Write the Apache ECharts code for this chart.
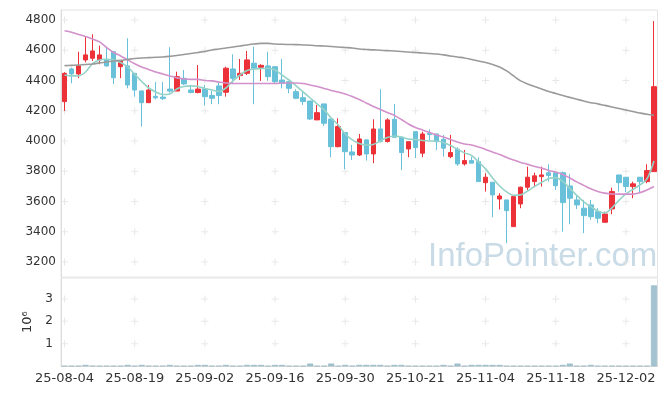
<!DOCTYPE html>
<html><head><meta charset="utf-8">
<script src="https://cdn.jsdelivr.net/npm/echarts@6/dist/echarts.min.js"></script>
<style>html,body{margin:0;padding:0;background:#fff}#c{width:665px;height:396px}</style>
</head><body><div id="c"></div>
<script>
const dates = ['25-08-04','25-08-05','25-08-06','25-08-07','25-08-08','25-08-11','25-08-12','25-08-13','25-08-14','25-08-18',
'25-08-19','25-08-20','25-08-21','25-08-22','25-08-25','25-08-26','25-08-27','25-08-28','25-08-29','25-09-01',
'25-09-02','25-09-03','25-09-04','25-09-05','25-09-08','25-09-09','25-09-10','25-09-11','25-09-12','25-09-15',
'25-09-16','25-09-17','25-09-18','25-09-19','25-09-22','25-09-23','25-09-24','25-09-25','25-09-26','25-09-29',
'25-09-30','25-10-01','25-10-02','25-10-10','25-10-13','25-10-14','25-10-15','25-10-16','25-10-17','25-10-20',
'25-10-21','25-10-22','25-10-23','25-10-24','25-10-27','25-10-28','25-10-29','25-10-30','25-10-31','25-11-03',
'25-11-04','25-11-05','25-11-06','25-11-07','25-11-10','25-11-11','25-11-12','25-11-13','25-11-14','25-11-17',
'25-11-18','25-11-19','25-11-20','25-11-21','25-11-24','25-11-25','25-11-26','25-11-27','25-11-28','25-12-01',
'25-12-02','25-12-03','25-12-04','25-12-05','25-12-08'];
const opens  = [4260,4476,4443,4536,4547,4536,4536,4590,4491,4496,4447,4331,4253,4295,4290,4343,4330,4414,4337,4320,
4343,4300,4364,4322,4476,4432,4447,4514,4487,4496,4491,4403,4392,4326,4286,4264,4139,4245,4145,3962,
4055,3927,3907,4007,3914,4079,3996,4143,4024,3947,4061,3919,4051,4046,4011,3896,3945,3848,3870,3863,
3724,3727,3616,3610,3433,3583,3694,3731,3764,3790,3790,3790,3702,3610,3555,3577,3532,3462,3550,3775,
3760,3698,3760,3731,3797];
const closes = [4447,4443,4496,4569,4595,4569,4496,4418,4529,4370,4337,4253,4337,4285,4280,4330,4425,4377,4320,4343,
4293,4282,4300,4481,4414,4447,4536,4481,4500,4425,4392,4381,4348,4282,4260,4145,4187,4117,3962,4095,
3929,3907,4013,3914,4079,3996,4139,4024,3923,3995,3956,4046,4042,3995,3952,3923,3848,3870,3853,3731,
3760,3643,3636,3539,3632,3694,3760,3769,3775,3771,3704,3592,3621,3577,3506,3499,3489,3517,3665,3724,
3698,3716,3731,3804,4359];
const lows   = [4198,4381,4415,4520,4529,4507,4491,4375,4415,4348,4293,4095,4253,4275,4270,4320,4330,4370,4315,4315,
4233,4243,4243,4293,4375,4403,4436,4243,4397,4397,4381,4348,4315,4276,4238,4139,4139,4099,3892,3958,
3813,3874,3900,3870,3853,3989,3989,4024,3808,3892,3886,3892,4002,3940,3896,3886,3835,3837,3853,3731,
3665,3495,3547,3324,3433,3555,3676,3694,3698,3731,3676,3400,3449,3550,3390,3478,3456,3462,3515,3665,
3661,3621,3654,3720,3797];
const highs  = [4455,4485,4590,4690,4705,4630,4617,4595,4529,4679,4450,4331,4370,4390,4390,4620,4458,4469,4370,4502,
4370,4331,4392,4491,4573,4542,4595,4623,4507,4590,4491,4542,4392,4342,4326,4264,4238,4245,4145,4150,
4055,3973,4046,4007,4143,4342,4150,4245,4024,3995,4061,4061,4077,4046,4040,4040,3958,3940,3896,3892,
3786,3727,3654,3610,3632,3698,3830,3790,3830,3846,3797,3797,3780,3643,3610,3610,3555,3532,3691,3775,
3760,3731,3760,3846,4793];
const ma5  = [4436,4430,4430,4456,4512,4536,4540,4536,4519,4489,4440,4393,4350,4324,4307,4311,4344,4360,4364,4360,
4347,4337,4327,4350,4397,4436,4466,4476,4479,4481,4469,4436,4403,4364,4324,4284,4245,4205,4152,4106,
4046,4007,3983,3973,3977,4000,4023,4033,4026,4013,4010,4003,4000,4000,3990,3970,3944,3921,3904,3861,
3815,3755,3702,3663,3640,3643,3669,3699,3726,3752,3757,3732,3686,3640,3597,3564,3537,3524,3557,3607,
3650,3679,3709,3749,3868];
const ma20 = [4729,4719,4704,4691,4674,4655,4618,4585,4562,4536,4511,4489,4473,4456,4443,4430,4417,4410,4407,4407,
4400,4397,4390,4383,4380,4380,4380,4380,4380,4380,4380,4383,4383,4383,4380,4370,4360,4347,4334,4324,
4311,4294,4274,4251,4228,4208,4188,4169,4142,4112,4089,4073,4056,4040,4026,4010,3993,3980,3973,3960,
3944,3927,3911,3891,3874,3858,3845,3831,3820,3805,3793,3778,3755,3729,3706,3683,3666,3655,3649,3648,
3648,3648,3658,3676,3699];
const ma60 = [4498,4500,4502,4506,4509,4516,4522,4529,4533,4539,4545,4549,4551,4553,4555,4559,4565,4572,4578,4585,
4592,4602,4608,4615,4621,4628,4635,4641,4645,4645,4641,4639,4638,4637,4635,4633,4630,4628,4625,4621,
4618,4615,4608,4605,4602,4600,4597,4595,4592,4588,4585,4582,4578,4575,4569,4562,4555,4549,4539,4529,
4519,4506,4489,4463,4430,4397,4377,4360,4344,4327,4314,4301,4288,4276,4264,4253,4245,4235,4225,4215,
4205,4195,4185,4176,4170];
const volumes = [20000,20000,20000,60000,20000,20000,20000,20000,20000,60000,20000,60000,20000,20000,20000,60000,20000,20000,20000,60000,
60000,20000,20000,60000,20000,20000,60000,60000,60000,20000,60000,60000,20000,20000,20000,120000,20000,20000,120000,20000,
60000,20000,60000,60000,60000,60000,20000,60000,60000,20000,20000,20000,20000,20000,60000,20000,120000,20000,60000,60000,
60000,60000,60000,20000,20000,20000,20000,20000,20000,20000,20000,60000,120000,20000,20000,60000,20000,20000,20000,20000,
20000,20000,20000,20000,3600000];
const priceTicks = [3200,3400,3600,3800,4000,4200,4400,4600,4800];
const volTicks = [1000000,2000000,3000000];
const labelEvery = 10;

const candleData = opens.map((o,i)=>[o, closes[i], lows[i], highs[i]]);
const tickIdx = dates.map((d,i)=>i).filter(i=>i%labelEvery===0);
const crossMain = [], crossVol = [];
tickIdx.forEach(i=>{ priceTicks.forEach(v=>crossMain.push([i,v])); volTicks.forEach(v=>crossVol.push([i,v])); });
const crossPath = 'path://M3,0L4,0L4,7L3,7ZM0,3L7,3L7,4L0,4Z';
const font = 'DejaVu Sans';

const chart = echarts.init(document.getElementById('c'), null, {renderer:'canvas'});
chart.setOption({
  animation:false,
  backgroundColor:'#fff',
  grid:[
    {left:61, right:7.5, top:10, height:267, show:true, borderColor:'#e4e4e4', borderWidth:1},
    {left:61, right:7.5, top:278, height:88.3, show:true, borderColor:'#e4e4e4', borderWidth:1}
  ],
  graphic:[{type:'text', left:428, top:240, z:-1, silent:true,
    style:{text:'InfoPointer.com', font:'33px "Liberation Sans"', fill:'#c9dbe6'}}],
  xAxis:[
    {type:'category', gridIndex:0, data:dates, boundaryGap:true, axisLine:{show:false}, axisTick:{show:false}, axisLabel:{show:false}, splitLine:{show:false}},
    {type:'category', gridIndex:1, data:dates, boundaryGap:true,
     axisLine:{lineStyle:{color:'#dcdcdc'}}, axisTick:{show:false},
     axisLabel:{interval:labelEvery-1, color:'#333', fontFamily:font, fontSize:13, margin:6}, splitLine:{show:false}}
  ],
  yAxis:[
    {type:'value', gridIndex:0, min:3100, max:4866, interval:100,
     axisLine:{show:true, lineStyle:{color:'#dcdcdc'}}, axisTick:{show:false},
     axisLabel:{color:'#333', fontFamily:font, fontSize:12, margin:5, showMaxLabel:false, showMinLabel:false,
       formatter:v=> (priceTicks.indexOf(v)>=0)? String(v):''},
     splitLine:{show:false}},
    {type:'value', gridIndex:1, min:0, max:3930000, interval:1000000,
     axisLine:{show:true, lineStyle:{color:'#dcdcdc'}}, axisTick:{show:false},
     axisLabel:{color:'#333', fontFamily:font, fontSize:12, margin:8, showMaxLabel:false,
       formatter:v=> (volTicks.indexOf(v)>=0)? String(v/1000000):''},
     name:'10⁶', nameLocation:'middle', nameRotate:90, nameGap:22,
     nameTextStyle:{color:'#333', fontFamily:font, fontSize:13},
     splitLine:{show:false}}
  ],
  series:[
    {type:'scatter', xAxisIndex:0, yAxisIndex:0, data:crossMain, symbol:crossPath, symbolSize:7, silent:true, z:0,
     itemStyle:{color:'#e2e2e2'}},
    {type:'scatter', xAxisIndex:1, yAxisIndex:1, data:crossVol, symbol:crossPath, symbolSize:7, silent:true, z:0,
     itemStyle:{color:'#e2e2e2'}},
    {type:'candlestick', xAxisIndex:0, yAxisIndex:0, data:candleData, barWidth:5, z:3,
     itemStyle:{color:'#ec3138', color0:'#68c0d9', borderColor:'#ec3138', borderColor0:'#68c0d9', borderWidth:1}},
    {type:'line', xAxisIndex:0, yAxisIndex:0, data:ma5, showSymbol:false, smooth:0.3, z:4,
     lineStyle:{color:'#95d2c8', width:1.6}},
    {type:'line', xAxisIndex:0, yAxisIndex:0, data:ma20, showSymbol:false, smooth:0.3, z:4,
     lineStyle:{color:'#d391cb', width:1.6}},
    {type:'line', xAxisIndex:0, yAxisIndex:0, data:ma60, showSymbol:false, smooth:0.3, z:4,
     lineStyle:{color:'#9a9a9a', width:1.6}},
    {type:'bar', xAxisIndex:1, yAxisIndex:1, data:volumes, barWidth:6, z:3,
     itemStyle:{color:'#a2c3cf', borderColor:'#8eb2bf', borderWidth:0.5}}
  ]
});
</script></body></html>
